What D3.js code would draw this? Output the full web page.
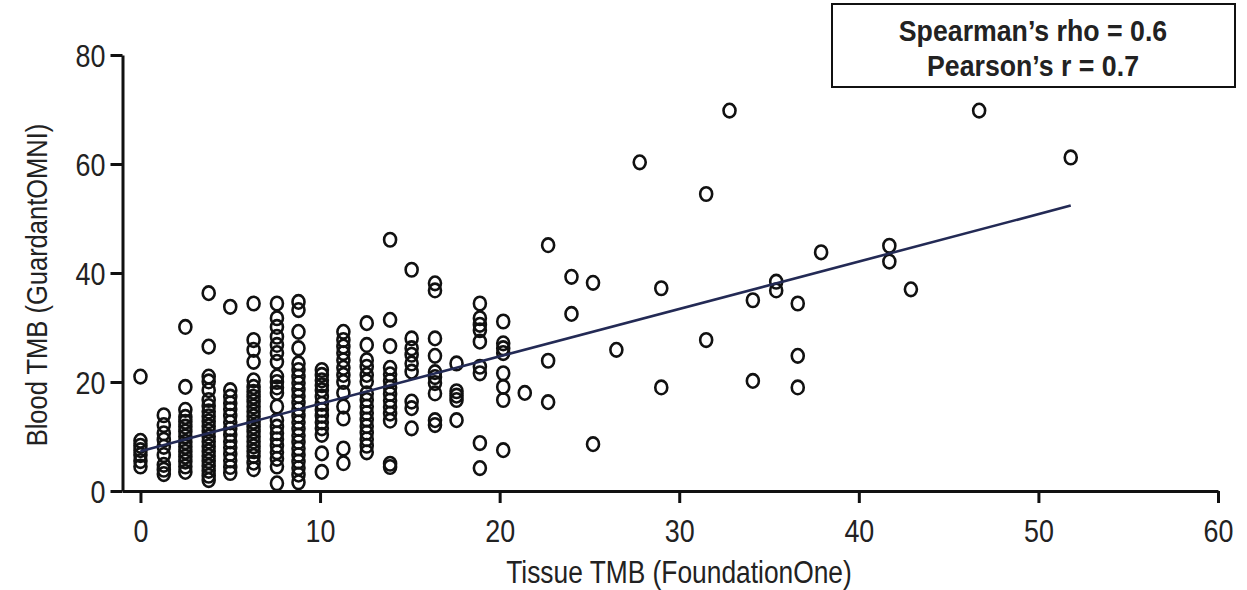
<!DOCTYPE html>
<html>
<head>
<meta charset="utf-8">
<script src="https://cdn.jsdelivr.net/npm/d3@7"></script>
<style>
  html, body { margin: 0; padding: 0; background: #fff; }
  svg text { font-family: "Liberation Sans", Arial, sans-serif; fill: #222; }
</style>
</head>
<body>
<div id="chart"></div>
<script>
// tissue TMB levels (FoundationOne is quantised) and the blood TMB values seen at each
const tissueLevels = [0, 1.3, 2.5, 3.8, 5.0, 6.3, 7.6, 8.8, 10.1, 11.3, 12.6, 13.9, 15.1, 16.4, 17.6, 18.9, 20.2,
    21.4, 22.7, 24.0, 25.2, 26.5, 27.8, 29.0, 31.5, 32.8, 34.1, 35.4, 36.6, 37.9, 41.7, 42.9, 46.7, 51.8];
const bloodByLevel = [
    [21.0, 9.2, 8.3, 7.5, 6.6, 5.5, 4.5],
    [13.9, 12.1, 10.6, 9.4, 8.1, 6.6, 4.8, 3.9, 3.1],
    [30.1, 19.1, 14.9, 13.6, 12.7, 11.8, 10.9, 10.0, 9.0, 8.1, 7.2, 6.3, 5.4, 4.5, 3.5],
    [36.3, 26.5, 21.0, 20.1, 18.5, 16.7, 15.6, 14.6, 13.7, 12.8, 11.9, 11.0, 10.0, 9.1, 8.2, 7.3, 6.4, 5.5, 4.6, 3.7, 2.8, 2.0],
    [33.8, 18.5, 17.3, 16.1, 15.0, 13.8, 12.6, 11.4, 10.3, 9.1, 8.0, 6.8, 5.6, 4.4, 3.3],
    [34.4, 27.7, 25.9, 23.7, 20.3, 19.1, 18.2, 17.3, 16.4, 15.5, 14.6, 13.7, 12.7, 11.8, 10.9, 10.0, 9.1, 8.2, 7.3, 6.4, 5.2, 4.0],
    [34.4, 31.7, 30.1, 28.3, 26.8, 25.3, 23.7, 21.0, 20.0, 19.0, 18.0, 15.5, 13.0, 11.8, 10.6, 9.5, 8.3, 7.1, 5.9, 4.5, 1.4],
    [34.7, 33.2, 29.2, 26.2, 23.4, 22.2, 21.0, 19.8, 18.6, 17.4, 16.2, 15.0, 13.8, 12.6, 11.4, 10.2, 9.0, 7.8, 6.6, 5.4, 4.2, 3.0, 1.6],
    [22.2, 21.3, 20.3, 19.4, 18.5, 17.3, 16.0, 14.9, 13.8, 12.6, 11.5, 10.3, 6.9, 3.5],
    [29.2, 27.7, 26.5, 25.3, 24.0, 22.6, 21.3, 20.0, 18.0, 15.5, 13.3, 7.8, 5.1],
    [30.8, 26.8, 24.0, 22.8, 21.3, 20.1, 17.9, 16.7, 15.5, 14.3, 13.1, 11.9, 10.7, 9.5, 8.3, 7.1],
    [46.1, 31.4, 26.6, 22.6, 21.4, 20.2, 19.0, 17.8, 16.6, 15.4, 14.2, 12.9, 5.0, 4.4],
    [40.6, 28.0, 26.2, 25.0, 23.4, 21.9, 16.4, 15.2, 11.5],
    [38.1, 36.8, 28.0, 24.8, 21.8, 20.9, 19.8, 17.9, 13.0, 12.1],
    [23.4, 18.3, 17.5, 16.7, 13.0],
    [34.4, 31.7, 30.5, 29.5, 27.4, 22.8, 21.6, 8.8, 4.2],
    [31.1, 27.1, 26.2, 25.3, 21.6, 19.1, 16.7, 7.5],
    [18.0],
    [45.1, 23.9, 16.3],
    [39.3, 32.5],
    [38.2, 8.6],
    [25.9],
    [60.3],
    [37.2, 19.0],
    [54.5, 27.7],
    [69.8],
    [35.0, 20.2],
    [38.4, 36.8],
    [34.4, 24.8, 19.0],
    [43.8],
    [45.0, 42.1],
    [37.0],
    [69.8],
    [61.2]
];

// linear fit drawn in the figure
const fitIntercept = 7.3;
const fitSlope = 0.87;
const fitSpan = [0, 51.8];

const xTicks = [0, 10, 20, 30, 40, 50, 60];
const yTicks = [0, 20, 40, 60, 80];
const statLines = ["Spearman\u2019s rho = 0.6", "Pearson\u2019s r = 0.7"];

const points = [];
tissueLevels.forEach((t, i) => {
    bloodByLevel[i].forEach(b => points.push({ x: t, y: b }));
});

const width = 1247, height = 590;
const svg = d3.select('#chart').append('svg')
    .attr('width', width)
    .attr('height', height);

const x = d3.scaleLinear().domain([-1, 60]).range([122.5, 1218]);
const y = d3.scaleLinear().domain([0, 80]).range([491, 55]);

// the original uses a condensed face, squeeze the text horizontally
function squeeze(sel, k) {
    sel.each(function () {
        const w = this.getComputedTextLength();
        d3.select(this).attr('textLength', w * k).attr('lengthAdjust', 'spacingAndGlyphs');
    });
}

// axes
const xAxis = svg.append('g')
    .attr('transform', `translate(0,${y(0)})`)
    .call(d3.axisBottom(x).tickValues(xTicks).tickSize(12).tickSizeOuter(0).tickPadding(16));
const yAxis = svg.append('g')
    .attr('transform', `translate(${x(-1)},0)`)
    .call(d3.axisLeft(y).tickValues(yTicks).tickSize(12).tickSizeOuter(0).tickPadding(5));

[xAxis, yAxis].forEach(g => {
    g.select('.domain').attr('stroke', '#111').attr('stroke-width', 3);
    g.selectAll('.tick line').attr('stroke', '#111').attr('stroke-width', 3);
    g.selectAll('.tick text').attr('font-size', 32).attr('fill', '#222')
        .style('font-family', '"Liberation Sans", Arial, sans-serif');
    squeeze(g.selectAll('.tick text'), 0.84);
});
yAxis.selectAll('.tick text').attr('dy', '0.36em');

// points
svg.append('g').selectAll('ellipse')
    .data(points)
    .enter().append('ellipse')
    .attr('cx', d => x(d.x))
    .attr('cy', d => y(d.y))
    .attr('rx', 6)
    .attr('ry', 6.8)
    .attr('fill', 'none')
    .attr('stroke', '#111')
    .attr('stroke-width', 2.6);

// fit line
svg.append('line')
    .attr('x1', x(fitSpan[0]))
    .attr('y1', y(fitIntercept + fitSlope * fitSpan[0]))
    .attr('x2', x(fitSpan[1]))
    .attr('y2', y(fitIntercept + fitSlope * fitSpan[1]))
    .attr('stroke', '#232a55')
    .attr('stroke-width', 2.6);

// axis titles
svg.append('text')
    .attr('x', 679)
    .attr('y', 583)
    .attr('text-anchor', 'middle')
    .attr('font-size', 31)
    .text('Tissue TMB (FoundationOne)')
    .call(squeeze, 0.85);

svg.append('text')
    .attr('transform', 'translate(47,285) rotate(-90)')
    .attr('text-anchor', 'middle')
    .attr('font-size', 30)
    .text('Blood TMB (GuardantOMNI)')
    .call(squeeze, 0.85);

// stats box
svg.append('rect')
    .attr('x', 832).attr('y', 4)
    .attr('width', 403).attr('height', 83)
    .attr('fill', '#fff')
    .attr('stroke', '#111')
    .attr('stroke-width', 2);

svg.selectAll('.stat')
    .data(statLines)
    .enter().append('text')
    .attr('class', 'stat')
    .attr('x', 1033)
    .attr('y', (d, i) => 41 + i * 35)
    .attr('text-anchor', 'middle')
    .attr('font-size', 30)
    .attr('font-weight', 'bold')
    .text(d => d)
    .call(squeeze, 0.89);
</script>
</body>
</html>
